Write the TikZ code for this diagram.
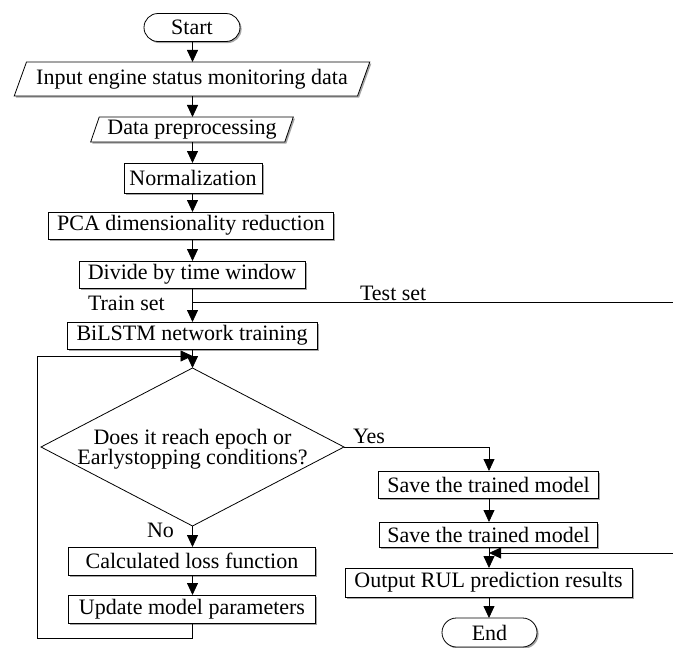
\documentclass[tikz,border=0pt]{standalone}
\usepackage{fontspec}
\setmainfont{Liberation Serif}
\usetikzlibrary{shapes.geometric,shapes.misc,arrows.meta,shadows}
\begin{document}
\begin{tikzpicture}[x=1pt,y=-1pt,
  font=\fontsize{22}{20}\selectfont,
  every node/.style={inner sep=0pt,outer sep=0pt},
  shad/.style={drop shadow={shadow xshift=1.6pt,shadow yshift=-1.6pt,fill=black!35,opacity=1}},
  box/.style={draw,line width=0.8pt,fill=white,rectangle,shad},
  para/.style={draw,line width=0.8pt,fill=white,trapezium,trapezium stretches=true,shad},
  term/.style={draw,line width=0.8pt,fill=white,rounded rectangle,shad},
  dia/.style={draw,line width=0.8pt,fill=white,diamond},
  arr/.style={-{Triangle[width=11pt,length=12pt]},line width=0.8pt},
  ln/.style={line width=0.8pt}]
\useasboundingbox (0,0) rectangle (673,648);

\coordinate (trunk) at (192.5,0);
\node[term,minimum width=96pt,minimum height=28pt] (start) at (192,27.5) {Start};
\node[para,trapezium left angle=60,trapezium right angle=120,minimum width=357pt,minimum height=34pt] (in1) at (192,79) {Input engine status monitoring data};
\node[para,trapezium left angle=68,trapezium right angle=112,minimum width=203pt,minimum height=25pt] (in2) at (192,129.5) {Data preprocessing};
\node[box,minimum width=138pt,minimum height=30pt] (norm) at (193,178) {Normalization};
\node[box,minimum width=285pt,minimum height=27pt] (pca) at (191,225.5) {PCA dimensionality reduction};
\node[box,minimum width=226pt,minimum height=27pt] (div) at (192,274.5) {Divide by time window};
\node[box,minimum width=250pt,minimum height=27pt] (bil) at (192,335.5) {BiLSTM network training};
\node[dia,minimum width=303pt,minimum height=158pt] (dec) at (192.5,447) {};
\node[align=center] (dect) at (192.5,449) {Does it reach epoch or\\Earlystopping conditions?};
\node[box,minimum width=247pt,minimum height=28pt] (calc) at (192,561) {Calculated loss function};
\node[box,minimum width=247pt,minimum height=28pt] (upd) at (192,609) {Update model parameters};
\node[box,minimum width=220pt,minimum height=27pt] (sv1) at (488.5,484.5) {Save the trained model};
\node[box,minimum width=218pt,minimum height=25pt] (sv2) at (488.5,534.5) {Save the trained model};
\node[box,minimum width=287pt,minimum height=29pt] (out) at (488.5,582.5) {Output RUL prediction results};
\node[term,minimum width=95pt,minimum height=29pt] (end) at (489.5,632.5) {End};

\coordinate (split) at (192.5,302);
\coordinate (testR) at (673,302);
\coordinate (testR2) at (673,553);
\coordinate (merge) at (489,553);
\coordinate (loopA) at (192.5,638);
\coordinate (loopB) at (37,638);
\coordinate (loopC) at (37,356);
\coordinate (loopD) at (192.5,356);
\coordinate (yesC) at (489,447);

\draw[arr] (start.south -| trunk) -- (in1.north -| trunk);
\draw[arr] (in1.south -| trunk) -- (in2.north -| trunk);
\draw[arr] (in2.south -| trunk) -- (norm.north -| trunk);
\draw[arr] (norm.south -| trunk) -- (pca.north -| trunk);
\draw[arr] (pca.south -| trunk) -- (div.north -| trunk);
\draw[arr] (div.south -| trunk) -- (bil.north -| trunk);
\draw[ln] (split) -- (testR);
\draw[arr] (testR2) -- (merge);
\draw[arr] (bil.south -| trunk) -- (dec.north);
\draw[arr] (dec.south) -- (calc.north -| trunk);
\draw[arr] (calc.south -| trunk) -- (upd.north -| trunk);
\draw[ln] (upd.south -| trunk) -- (loopA) -- (loopB) -- (loopC);
\draw[arr] (loopC) -- (loopD);
\draw[ln] (dec.east) -- (yesC);
\draw[arr] (yesC) -- (sv1.north -| yesC);
\draw[arr] (sv1.south -| yesC) -- (sv2.north -| yesC);
\draw[arr] (sv2.south -| yesC) -- (out.north -| yesC);
\draw[arr] (out.south -| yesC) -- (end.north -| yesC);

\node[anchor=base west] (trainl) at (88,310) {Train set};
\node[anchor=base west] (testl) at (360,300) {Test set};
\node[anchor=base west] (yesl) at (353,443) {Yes};
\node[anchor=base east] (nol) at (174,537) {No};
\end{tikzpicture}
\end{document}
